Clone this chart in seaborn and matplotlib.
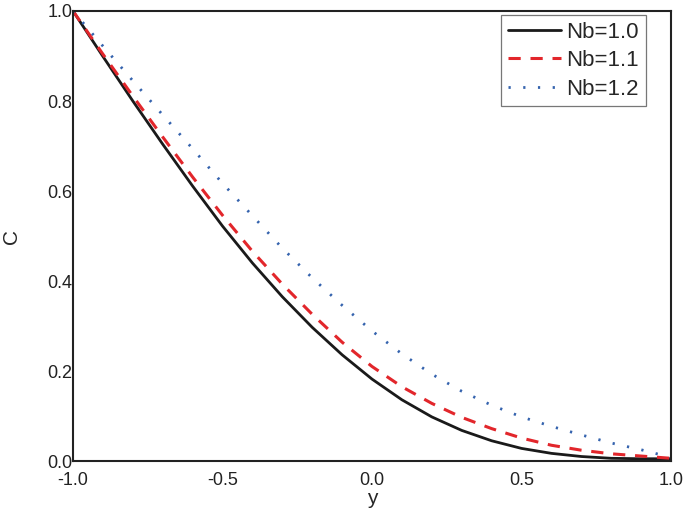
import numpy as np
import pandas as pd
import matplotlib
matplotlib.use("Agg")
import matplotlib.pyplot as plt
import seaborn as sns

y_vals = [-1.0, -0.9, -0.8, -0.7, -0.6, -0.5, -0.4, -0.3, -0.2, -0.1, 0.0,
          0.1, 0.2, 0.3, 0.4, 0.5, 0.6, 0.7, 0.8, 0.9, 1.0]
c_nb10 = [1.0, 0.899, 0.800, 0.704, 0.611, 0.522, 0.440, 0.365, 0.297, 0.236, 0.182,
          0.136, 0.098, 0.068, 0.045, 0.028, 0.017, 0.010, 0.006, 0.005, 0.005]
c_nb11 = [1.0, 0.904, 0.811, 0.720, 0.631, 0.546, 0.466, 0.393, 0.326, 0.264, 0.210,
          0.165, 0.128, 0.097, 0.072, 0.051, 0.035, 0.024, 0.016, 0.011, 0.006]
c_nb12 = [1.0, 0.922, 0.845, 0.769, 0.694, 0.617, 0.545, 0.473, 0.407, 0.346, 0.289,
          0.238, 0.193, 0.155, 0.124, 0.098, 0.077, 0.058, 0.040, 0.025, 0.008]
labels = ["Nb=1.0", "Nb=1.1", "Nb=1.2"]
x_ticks = [-1.0, -0.5, 0.0, 0.5, 1.0]
y_ticks = [0.0, 0.2, 0.4, 0.6, 0.8, 1.0]

sns.set_style("white")
plt.rcParams["font.family"] = ["Liberation Sans", "DejaVu Sans"]

fig = plt.figure(figsize=(6.85, 5.14), dpi=100)
ax = fig.add_axes([0.1066, 0.1031, 0.873, 0.8755])

series = [c_nb10, c_nb11, c_nb12]
colors = ["#1a1a1a", "#e2262b", "#3563ae"]
styles = ["-", (0, (4.0, 3.2)), (0, (0.8, 4.5))]
widths = [2.0, 2.2, 2.0]
for vals, lab, col, ls, lw in zip(series, labels, colors, styles, widths):
    df = pd.DataFrame({"y": y_vals, "C": vals})
    sns.lineplot(data=df, x="y", y="C", ax=ax, color=col, linestyle=ls,
                 linewidth=lw, label=lab)

ax.set_xlim(-1.0, 1.0)
ax.set_ylim(0.0, 1.0)
ax.set_xticks(x_ticks)
ax.set_yticks(y_ticks)
ax.set_xticklabels([f"{t:.1f}" for t in x_ticks])
ax.set_yticklabels([f"{t:.1f}" for t in y_ticks])
ax.tick_params(axis="both", length=0, labelsize=13, colors="#222222")
ax.tick_params(axis="x", pad=8)
ax.tick_params(axis="y", pad=0.5)
ax.set_xlabel("y", fontsize=15, labelpad=0)
ax.set_ylabel("C", fontsize=15, labelpad=19)
for sp in ax.spines.values():
    sp.set_color("#222222")
    sp.set_linewidth(1.5)

leg = ax.legend(loc="upper right", bbox_to_anchor=(0.958, 0.991), fontsize=16,
                frameon=True, fancybox=False,
                handlelength=2.4, handletextpad=0.25, borderpad=0.3,
                labelspacing=0.34, borderaxespad=0.0)
leg.get_frame().set_edgecolor("#555555")
leg.get_frame().set_linewidth(0.9)

fig.savefig("out.png", dpi=100)
